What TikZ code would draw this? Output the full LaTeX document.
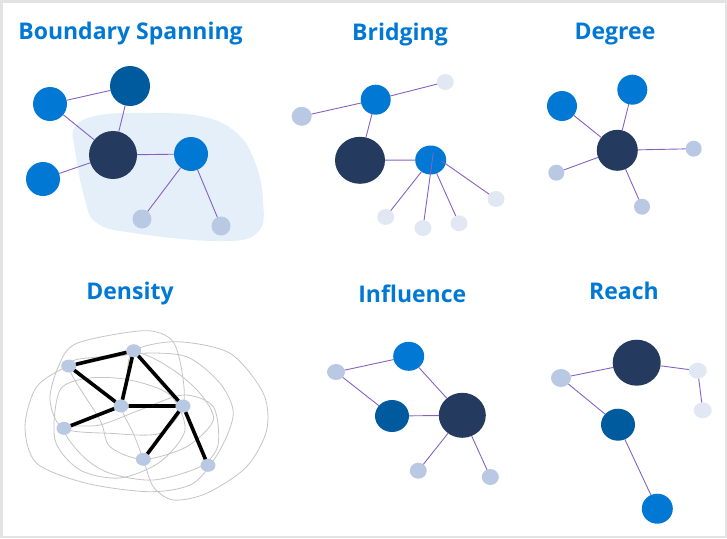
\documentclass[tikz,border=0pt]{standalone}
\usepackage{fontspec}
\setmainfont{Open Sans}
\usetikzlibrary{shapes.geometric}
\definecolor{msblue}{HTML}{0078D4}
\definecolor{navy}{HTML}{243A5E}
\definecolor{deepblue}{HTML}{005A9E}
\definecolor{paleblue}{HTML}{B9C9E4}
\definecolor{mistblue}{HTML}{E2E8F3}
\definecolor{linkpurple}{HTML}{8661C5}
\definecolor{zone}{HTML}{E4EFFA}
\definecolor{framegray}{HTML}{E3E3E3}
\definecolor{loopgray}{HTML}{C4C4C4}

\begin{document}
\begin{tikzpicture}[x=1pt, y=-1pt,
   dot/.style={ellipse, inner sep=0pt, outer sep=0pt},
   hub/.style={dot, fill=navy},
   bright/.style={dot, fill=msblue},
   deep/.style={dot, fill=deepblue},
   pale/.style={dot, fill=paleblue},
   mist/.style={dot, fill=mistblue},
   link/.style={draw=linkpurple, line width=0.9pt},
   tie/.style={draw=black, line width=3.6pt},
   tangle/.style={draw=loopgray, line width=0.8pt},
   title/.style={anchor=base, text=msblue, inner sep=0pt,
                 font=\fontsize{23}{26}\selectfont\bfseries}]
   \useasboundingbox (0,0) rectangle (727,538);
   \draw[framegray, line width=2.5pt] (1.25,1.25) rectangle (725.75,536.75);

   % Boundary Spanning
   \node[title] (tBS) at (130.5,39.5) {Boundary Spanning};
   \fill[zone] plot[smooth cycle, tension=0.7] coordinates {(75,127) (100,115) (150,113) (200,116)
      (233,130) (253,157) (263,200) (257,233) (217,241) (133,233) (97,223) (85,200) (75,150)};
   \node[bright, minimum size=34] (bsA) at (50,104) {};
   \node[deep, minimum size=40] (bsB) at (130,86) {};
   \node[hub, minimum size=48] (bsC) at (113,155) {};
   \node[bright, minimum size=34] (bsD) at (43,179) {};
   \node[bright, minimum size=34] (bsE) at (191,154) {};
   \node[pale, minimum size=19] (bsF) at (142,219) {};
   \node[pale, minimum size=19] (bsG) at (221,226) {};
   \draw[link] (bsA) -- (bsB) (bsA) -- (bsC) (bsB) -- (bsC) (bsD) -- (bsC)
               (bsC) -- (bsE) (bsE) -- (bsF) (bsE) -- (bsG);

   % Bridging
   \node[title] (tBr) at (400,40.5) {Bridging};
   \node[bright, minimum size=30] (brH) at (375.7,99.7) {};
   \node[pale, minimum width=20, minimum height=19] (brI) at (301.7,116.3) {};
   \node[mist, minimum width=17, minimum height=16] (brJ) at (445.3,82) {};
   \node[hub, minimum width=50, minimum height=47] (brK) at (360,160.3) {};
   \node[bright, minimum width=31, minimum height=29] (brL) at (430.7,160) {};
   \node[mist, minimum width=17, minimum height=16] (brM1) at (385.7,217) {};
   \node[mist, minimum width=17, minimum height=16] (brM2) at (423,228) {};
   \node[mist, minimum width=17, minimum height=16] (brM3) at (459,223.3) {};
   \node[mist, minimum width=17, minimum height=16] (brM4) at (496,199) {};
   \draw[link] (brI) -- (brH) -- (brJ) (brH) -- (brK) -- (brL)
               (brL) -- (brM1) (brL) -- (brM3);
   \draw[link] ([shift={(2.6,-7.3)}]brL.center) -- (brM2);
   \draw[link] ([shift={(11,1)}]brL.center) -- (brM4);

   % Degree
   \node[title] (tDg) at (615,39.5) {Degree};
   \node[hub, minimum size=41] (dgC) at (617.3,150.3) {};
   \node[bright, minimum size=30] (dgA) at (562,106) {};
   \node[bright, minimum size=30] (dgB) at (632.3,89.7) {};
   \node[pale, minimum size=16] (dgR) at (693.7,148.7) {};
   \node[pale, minimum size=16] (dgL) at (556.3,172.7) {};
   \node[pale, minimum size=16] (dgD) at (642,206.7) {};
   \foreach \n in {dgA,dgB,dgR,dgL,dgD}
      \draw[link] (dgC) -- (\n);

   % Density
   \node[title] (tDn) at (130,299.5) {Density};
   \draw[tangle] plot[smooth cycle] coordinates {(76.7,343.3) (143.3,330.7) (171.7,340) (181.7,370)
      (183,406) (160,433.3) (110,433.3) (63.3,428.3) (50,400) (58.3,366.7)};
   \draw[tangle] plot[smooth cycle] coordinates {(68.7,366) (36.7,386.7) (25,426.7) (36.7,463.3)
      (86.7,483.3) (150,491.7) (193.3,483.3) (220,450) (233.3,413.3) (220,383.3) (186.7,356.7)
      (140,353.3) (100,360)};
   \draw[tangle] plot[smooth cycle] coordinates {(133.7,350.7) (176.7,341.7) (230,353.3) (263.3,393.3)
      (266.7,430) (246.7,466.7) (206.7,493.3) (173.3,500) (153.3,486.7) (143.3,459.3) (133.3,433.3)
      (121,406) (126.7,376.7)};
   \draw[tangle] plot[smooth cycle] coordinates {(64,428.3) (83.3,456.7) (110,473.3) (153.3,480)
      (200,466.7) (218,445) (213.3,406.7) (183,395) (140,410) (100,425)};
   \draw[tangle] plot[smooth cycle] coordinates {(68.7,366) (100,356.7) (140,353.3) (173.3,370)
      (200,393.3) (213.3,420) (186.7,446.7) (143.3,459.3) (110,446.7) (100,420)};
   \draw[tangle] plot[smooth cycle] coordinates {(60,390) (55,440) (80,470) (120,478) (160,462)
      (185,430) (170,395) (130,380) (90,378)};
   \node[pale, minimum width=15, minimum height=13] (dnA) at (68.7,366) {};
   \node[pale, minimum width=15, minimum height=13] (dnB) at (133.7,350.7) {};
   \node[pale, minimum width=15, minimum height=13] (dnC) at (121,406) {};
   \node[pale, minimum width=15, minimum height=13] (dnD) at (183,406) {};
   \node[pale, minimum width=15, minimum height=13] (dnE) at (64,428.3) {};
   \node[pale, minimum width=15, minimum height=13] (dnF) at (143.3,459.3) {};
   \node[pale, minimum width=15, minimum height=13] (dnG) at (208,465.3) {};
   \draw[tie] (dnA) -- (dnB) (dnA) -- (dnC) (dnB) -- (dnC) (dnB) -- (dnD)
              (dnC) -- (dnD) (dnC) -- (dnE) (dnD) -- (dnF) (dnD) -- (dnG);

   % Influence
   \node[title] (tIn) at (412.3,302.5) {Influence};
   \node[bright, minimum width=31, minimum height=29] (inA) at (408.7,356.3) {};
   \node[pale, minimum width=18, minimum height=16] (inB) at (336,372) {};
   \node[deep, minimum width=34, minimum height=32] (inC) at (392,416) {};
   \node[hub, minimum width=47, minimum height=45] (inD) at (462.3,415.3) {};
   \node[pale, minimum width=17, minimum height=16] (inE) at (418.3,470.7) {};
   \node[pale, minimum width=17, minimum height=16] (inF) at (490.3,477) {};
   \draw[link] (inB) -- (inA) -- (inD) (inB) -- (inC) -- (inD)
               (inD) -- (inE) (inD) -- (inF);

   % Reach
   \node[title] (tRe) at (624,299.5) {Reach};
   \node[hub, minimum width=48, minimum height=46] (reA) at (636.7,362.7) {};
   \node[pale, minimum width=20, minimum height=18] (reB) at (561,378) {};
   \node[mist, minimum width=18, minimum height=16] (reC) at (697.7,370.7) {};
   \node[mist, minimum width=18, minimum height=16] (reD) at (702.7,410.3) {};
   \node[deep, minimum width=34, minimum height=32] (reE) at (618,424.7) {};
   \node[bright, minimum width=31, minimum height=30] (reF) at (657.3,508.7) {};
   \draw[link] (reB) -- (reA) -- (reC) -- (reD) (reB) -- (reE) -- (reF);
\end{tikzpicture}
\end{document}
